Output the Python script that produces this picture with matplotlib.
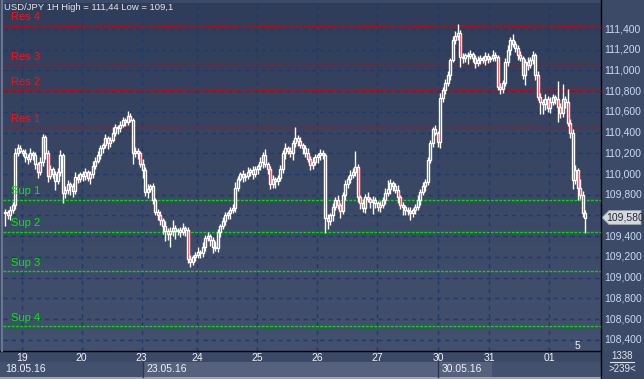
import numpy as np
import matplotlib
matplotlib.use('Agg')
import matplotlib.pyplot as plt
from matplotlib.patches import Rectangle, Polygon
from matplotlib.colors import LinearSegmentedColormap
from matplotlib.transforms import blended_transform_factory

# hourly closes, USD/JPY 18.05.16 - 01.06.16
closes = [
    109.63, 109.60, 109.65, 109.70, 110.20, 110.25, 110.22, 110.20, 110.16, 110.15,
    110.20, 110.18, 110.10, 110.02, 110.12, 110.36, 110.20, 109.98, 110.05, 110.00,
    109.93, 110.02, 110.18, 109.82, 109.85, 109.90, 109.88, 109.84, 109.97, 109.95,
    110.00, 109.98, 110.02, 109.96, 110.00, 110.08, 110.13, 110.18, 110.25, 110.28,
    110.35, 110.30, 110.33, 110.40, 110.45, 110.44, 110.47, 110.52, 110.50, 110.56,
    110.52, 110.20, 110.22, 110.20, 110.10, 110.04, 109.83, 109.86, 109.88, 109.75,
    109.63, 109.60, 109.56, 109.50, 109.45, 109.42, 109.45, 109.48, 109.45, 109.46,
    109.44, 109.48, 109.46, 109.18, 109.15, 109.20, 109.22, 109.25, 109.24, 109.30,
    109.38, 109.40, 109.36, 109.30, 109.29, 109.44, 109.50, 109.55, 109.60, 109.62,
    109.65, 109.67, 109.87, 109.95, 110.00, 109.97, 109.98, 110.02, 110.04, 110.00,
    110.05, 110.08, 110.12, 110.18, 110.10, 110.05, 109.90, 109.95, 109.93, 109.96,
    110.05, 110.20, 110.25, 110.22, 110.20, 110.30, 110.35, 110.32, 110.28, 110.25,
    110.20, 110.15, 110.09, 110.12, 110.16, 110.18, 110.20, 110.18, 109.58, 109.55,
    109.60, 109.68, 109.75, 109.70, 109.64, 109.80, 109.90, 109.95, 109.99, 110.02,
    110.07, 109.78, 109.72, 109.67, 109.78, 109.76, 109.73, 109.75, 109.72, 109.68,
    109.70, 109.75, 109.82, 109.86, 109.91, 109.88, 109.85, 109.78, 109.70, 109.68,
    109.65, 109.64, 109.62, 109.65, 109.68, 109.75, 109.83, 109.88, 109.92, 110.14,
    110.30, 110.43, 110.40, 110.31, 110.73, 110.81, 110.88, 110.96, 111.10, 111.29,
    111.33, 111.36, 111.13, 111.12, 111.15, 111.14, 111.16, 111.12, 111.07, 111.10,
    111.12, 111.10, 111.14, 111.11, 111.12, 111.15, 111.13, 110.84, 110.82, 110.88,
    111.08, 111.20, 111.29, 111.26, 111.22, 111.15, 111.12, 110.96, 111.08, 111.05,
    111.10, 111.15, 110.96, 110.74, 110.70, 110.68, 110.72, 110.64, 110.70, 110.74,
    110.72, 110.65, 110.59, 110.72, 110.70, 110.49, 110.40, 109.94, 110.04, 109.87,
    109.80, 109.62, 109.58,
]
first_open = 109.62

# wick lengths above / below the body, in hundredths of a yen
upper_wick = [
    3, 2, 4, 3, 5, 4, 3, 2, 4, 3,  5, 2, 3, 2, 4, 3, 2, 3, 4, 2,
    3, 4, 5, 2, 3, 4, 2, 3, 5, 3,  2, 3, 4, 2, 3, 5, 3, 4, 3, 2,
    4, 2, 3, 5, 3, 2, 4, 3, 2, 5,  3, 2, 4, 3, 2, 5, 3, 4, 2, 3,
    2, 3, 4, 2, 5, 3, 4, 8, 3, 2,  3, 5, 2, 3, 4, 2, 3, 5, 2, 4,
    3, 4, 2, 3, 5, 3, 2, 4, 3, 2,  3, 4, 5, 3, 2, 4, 3, 5, 2, 4,
    3, 2, 4, 3, 6, 2, 3, 4, 2, 3,  4, 3, 5, 2, 4, 3, 10, 3, 4, 2,
    3, 5, 2, 4, 3, 2, 4, 3, 2, 3,  2, 4, 3, 5, 2, 3, 4, 3, 5, 4,
    15, 3, 2, 4, 3, 5, 2, 4, 3, 2,  4, 3, 5, 8, 4, 2, 3, 4, 2, 3,
    2, 3, 4, 2, 3, 5, 3, 4, 3, 2,  3, 2, 4, 2, 5, 3, 4, 3, 2, 4,
    5, 9, 3, 4, 2, 3, 4, 2, 3, 4,  3, 2, 4, 3, 2, 5, 3, 2, 4, 3,
    4, 5, 3, 6, 2, 3, 4, 2, 3, 5,  3, 4, 2, 3, 4, 2, 5, 3, 4, 3,
    2, 18, 4, 15, 3, 12, 4, 3, 5, 2,  8, 4, 3,
]
lower_wick = [
    12, 3, 4, 3, 4, 3, 2, 3, 4, 5,  3, 4, 5, 6, 3, 4, 5, 6, 3, 4,
    8, 3, 4, 10, 5, 4, 8, 6, 3, 4,  3, 5, 4, 3, 6, 4, 3, 2, 3, 5,
    3, 6, 4, 2, 3, 5, 3, 2, 4, 3,  2, 10, 4, 5, 3, 8, 4, 6, 3, 4,
    3, 4, 5, 8, 10, 6, 12, 5, 8, 4,  5, 3, 6, 4, 5, 3, 4, 3, 5, 4,
    4, 3, 5, 6, 3, 4, 5, 3, 4, 3,  5, 3, 4, 3, 2, 5, 4, 3, 4, 5,
    3, 5, 4, 6, 3, 5, 4, 3, 6, 4,  3, 4, 5, 3, 4, 6, 4, 5, 3, 6,
    4, 3, 5, 4, 3, 5, 4, 3, 15, 8,  4, 5, 3, 4, 6, 3, 5, 3, 4, 3,
    4, 5, 6, 4, 5, 3, 6, 12, 5, 4,  5, 3, 4, 3, 5, 4, 3, 6, 4, 8,
    5, 4, 6, 3, 4, 3, 5, 3, 4, 3,  3, 4, 2, 5, 6, 3, 4, 3, 5, 2,
    3, 4, 10, 5, 4, 8, 3, 4, 5, 3,  4, 3, 5, 4, 3, 3, 4, 3, 5, 4,
    3, 4, 5, 3, 4, 5, 3, 4, 10, 5,  3, 4, 5, 3, 12, 10, 6, 4, 5, 3,
    4, 15, 5, 4, 6, 3, 5, 8, 4, 12,  4, 3, 15,
]

day_labels = ['19', '20', '23', '24', '25', '26', '27', '30', '31', '01']
day_starts = [7, 31, 55, 77, 101, 125, 149, 173.6, 194, 218]

res_levels = [111.43, 111.05, 110.81, 110.45]
res_names = ['Res 4', 'Res 3', 'Res 2', 'Res 1']
sup_levels = [109.75, 109.44, 109.06, 108.53]
sup_names = ['Sup 1', 'Sup 2', 'Sup 3', 'Sup 4']

price_ticks = [108.4, 108.6, 108.8, 109.0, 109.2, 109.4, 109.6, 109.8,
               110.0, 110.2, 110.4, 110.6, 110.8, 111.0, 111.2, 111.4]
last_price = 109.58

W, H = 644, 379
fig = plt.figure(figsize=(W / 100, H / 100), dpi=100)
fig.patch.set_facecolor('#3d4a67')
plt.rcParams['font.family'] = ['Liberation Sans', 'DejaVu Sans']


def fx(px):
    return px / W


def fy(py):
    return 1 - py / H


def price_label(p):
    return f'{int(p)},{int(round((p - int(p)) * 1000)):03d}'


ax = fig.add_axes([fx(3), fy(351), fx(601) - fx(3), fy(3) - fy(351)])
ymin, ymax = 108.292, 111.651
xmin, xmax = -0.8, 238.4
ax.set_xlim(xmin, xmax)
ax.set_ylim(ymin, ymax)
ax.axis('off')

# background gradient
grad = np.linspace(0, 1, 256).reshape(-1, 1)
bg_cmap = LinearSegmentedColormap.from_list('bg', ['#43516f', '#2f3c5a'])
ax.imshow(grad, cmap=bg_cmap, aspect='auto', extent=[xmin, xmax, ymax, ymin], zorder=0)

# grid
for p in price_ticks:
    ax.axhline(p, color='#1f3a68', lw=1, ls=(0, (3, 3)), zorder=1)
for d in day_starts:
    ax.axvline(d - 0.3, color='#1f3a68', lw=1, ls=(0, (3, 3)), zorder=1)

# candles
closes_a = np.array(closes)
opens_a = np.concatenate([[first_open], closes_a[:-1]])
hi_a = np.maximum(opens_a, closes_a) + np.array(upper_wick) / 100
lo_a = np.minimum(opens_a, closes_a) - np.array(lower_wick) / 100
xs = np.arange(len(closes))
ax.vlines(xs, lo_a, hi_a, color='white', lw=1, zorder=3)
body_col = ['#ff0000' if c < o else '#34415f' for o, c in zip(opens_a, closes_a)]
ax.bar(xs, np.maximum(np.abs(closes_a - opens_a), 0.004), bottom=np.minimum(opens_a, closes_a),
       width=0.8, color=body_col, edgecolor='white', linewidth=1.0, zorder=4)

# support / resistance
for lvl, name in zip(res_levels, res_names):
    ax.axhline(lvl, color='#d80000', lw=1, ls=(0, (2, 1)), zorder=2)
    ax.text(2.4, lvl + 0.035, name, color='#ff1010', fontsize=8, va='bottom', ha='left', zorder=5)
for lvl, name in zip(sup_levels, sup_names):
    ax.axhline(lvl, color='#00dd00', lw=1, ls=(0, (2, 1)), zorder=2)
    ax.text(2.4, lvl + 0.035, name, color='#00ee00', fontsize=8, va='bottom', ha='left', zorder=5)

fig.text(fx(4), fy(8), 'USD/JPY 1H High = 111,44 Low = 109,1', color='#e6e6e6',
         fontsize=6.8, va='center', ha='left', zorder=6)

# right price scale (109,600 sits under the current price flag)
tr = blended_transform_factory(fig.transFigure, ax.transData)
for p in price_ticks:
    if abs(p - 109.6) < 1e-6:
        continue
    fig.text(fx(604), p, price_label(p), transform=tr, color='#c9d9f2', fontsize=7.5, va='center', ha='left')

# current price flag
y_lp = fy(29 + (111.4 - last_price) * 103.6)
flag = Polygon([(fx(602), y_lp), (fx(609), y_lp + 7 / H), (fx(641), y_lp + 7 / H),
                (fx(641), y_lp - 7 / H), (fx(609), y_lp - 7 / H)],
               closed=True, transform=fig.transFigure, facecolor='#d4d8df', edgecolor='#9aa2b0', lw=0.6)
fig.patches.append(flag)
fig.text(fx(625), y_lp, price_label(last_price), color='#2a2a2a', fontsize=7.5, va='center', ha='center')

# bottom time scale
fig.patches.append(Rectangle((0, fy(379)), 1, fy(351) - fy(379), transform=fig.transFigure,
                             facecolor='#3c4966', edgecolor='none', zorder=0))
fig.patches.append(Rectangle((0, fy(377)), fx(601), fy(362) - fy(377), transform=fig.transFigure,
                             facecolor='#44516e', edgecolor='none', zorder=1))
fig.patches.append(Rectangle((fx(143), fy(377)), fx(492) - fx(143), fy(362) - fy(377),
                             transform=fig.transFigure, facecolor='#56627d', edgecolor='none', zorder=1))
fig.patches.append(Rectangle((0, 0), fx(601), fy(377), transform=fig.transFigure,
                             facecolor='#9aa3b4', edgecolor='none', zorder=1))
for xp in [143, 438]:
    fig.lines.append(plt.Line2D([fx(xp), fx(xp)], [fy(377), fy(362)], transform=fig.transFigure,
                                color='#2a3754', lw=1))
trx = blended_transform_factory(ax.transData, fig.transFigure)
for d, lab in zip(day_starts, day_labels):
    fig.text(d - 0.3, fy(358), lab, transform=trx, color='#eef2f8', fontsize=7.5, va='center', ha='center')
for xp, lab in [(5, '18.05.16'), (146, '23.05.16'), (442, '30.05.16')]:
    fig.text(fx(xp), fy(369.5), lab, color='#eef2f8', fontsize=7.5, va='center', ha='left')

# frame lines
fig.lines.append(plt.Line2D([0, fx(601)], [fy(351), fy(351)], transform=fig.transFigure, color='black', lw=1))
fig.lines.append(plt.Line2D([fx(601), fx(601)], [0, 1], transform=fig.transFigure, color='black', lw=1))
fig.lines.append(plt.Line2D([fx(2), fx(2)], [fy(351), 1], transform=fig.transFigure, color='#6a7590', lw=1.5))

# bar count box
fig.text(fx(622), fy(356), '1338', color='#dfe6f2', fontsize=7, va='center', ha='center')
fig.lines.append(plt.Line2D([fx(610), fx(634)], [fy(362), fy(362)], transform=fig.transFigure,
                            color='#dfe6f2', lw=0.8))
fig.text(fx(622), fy(369), '>239<', color='#dfe6f2', fontsize=7, va='center', ha='center')
fig.text(fx(577), fy(346), '5', color='#eef2f8', fontsize=7.5, va='center', ha='center')

fig.savefig('out.png', dpi=100, facecolor=fig.get_facecolor())
